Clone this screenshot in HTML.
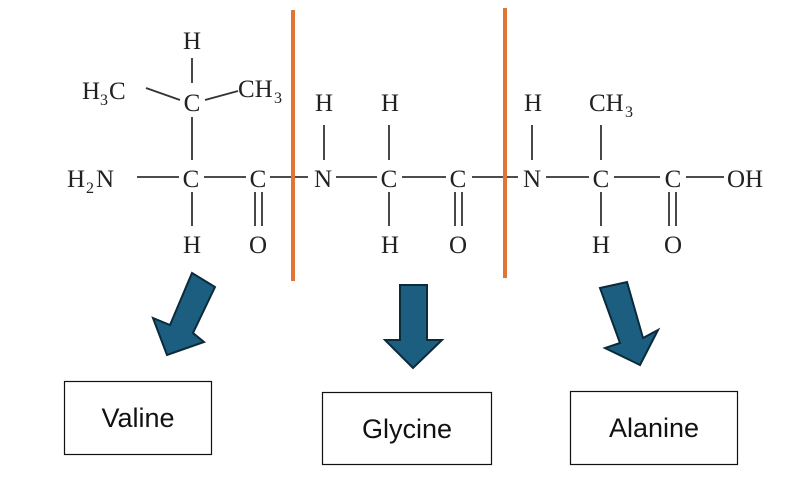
<!DOCTYPE html>
<html><head><meta charset="utf-8"><style>
html,body{margin:0;padding:0;background:#fff;}
svg{display:block}
.t{font-family:"Liberation Serif",serif;font-size:25px;fill:#222}
.s{font-family:"Liberation Serif",serif;font-size:16px;fill:#222}
.b{font-family:"Liberation Sans",sans-serif;font-size:27px;fill:#111}
</style></head><body>
<svg width="807" height="491" viewBox="0 0 807 491" xmlns="http://www.w3.org/2000/svg">
<g stroke="#333" stroke-width="1.8" fill="none">
<line x1="137" y1="177" x2="179" y2="177"/>
<line x1="204" y1="177" x2="246" y2="177"/>
<line x1="270" y1="177" x2="308" y2="177"/>
<line x1="336" y1="177" x2="377" y2="177"/>
<line x1="402" y1="177" x2="446" y2="177"/>
<line x1="472" y1="177" x2="518" y2="177"/>
<line x1="546" y1="177" x2="589" y2="177"/>
<line x1="614" y1="177" x2="660" y2="177"/>
<line x1="686" y1="177" x2="724" y2="177"/>
<line x1="192" y1="58" x2="192" y2="83"/>
<line x1="192" y1="117" x2="192" y2="160"/>
<line x1="192" y1="192" x2="192" y2="226"/>
<line x1="255" y1="192" x2="255" y2="226"/><line x1="262" y1="192" x2="262" y2="226"/>
<line x1="324" y1="125" x2="324" y2="160"/>
<line x1="389" y1="125" x2="389" y2="160"/>
<line x1="389" y1="192" x2="389" y2="226"/>
<line x1="455" y1="192" x2="455" y2="226"/><line x1="462" y1="192" x2="462" y2="226"/>
<line x1="532" y1="125" x2="532" y2="160"/>
<line x1="601" y1="125" x2="601" y2="160"/>
<line x1="601" y1="192" x2="601" y2="226"/>
<line x1="669" y1="192" x2="669" y2="226"/><line x1="676" y1="192" x2="676" y2="226"/>
<line x1="146" y1="88" x2="180" y2="100"/>
<line x1="205" y1="100" x2="238" y2="91"/>
</g>
<g class="t" text-anchor="middle">
<text x="192" y="49">H</text>
<text x="192" y="111">C</text>
<text x="191" y="187">C</text>
<text x="258" y="187">C</text>
<text x="324" y="111">H</text>
<text x="323" y="187">N</text>
<text x="390" y="111">H</text>
<text x="389" y="187">C</text>
<text x="458" y="187">C</text>
<text x="533" y="111">H</text>
<text x="532" y="187">N</text>
<text x="601" y="187">C</text>
<text x="673" y="187">C</text>
<text x="192" y="253">H</text>
<text x="258" y="253">O</text>
<text x="390" y="253">H</text>
<text x="458" y="253">O</text>
<text x="601" y="253">H</text>
<text x="673" y="253">O</text>
</g>
<g class="t">
<text x="82" y="99">H</text><text class="s" x="100" y="105">3</text><text x="109" y="99">C</text>
<text x="238" y="97">CH</text><text class="s" x="274" y="103">3</text>
<text x="67" y="187">H</text><text class="s" x="86" y="193">2</text><text x="96" y="187">N</text>
<text x="589" y="111">CH</text><text class="s" x="625" y="117">3</text>
<text x="727" y="187">OH</text>
</g>
<line x1="293" y1="10" x2="293" y2="281" stroke="#E07536" stroke-width="4"/>
<line x1="505" y1="8" x2="505" y2="278" stroke="#E07536" stroke-width="4"/>
<g fill="#1C5E80" stroke="#0B2A3A" stroke-width="2" stroke-linejoin="miter">
<polygon points="192,273 215,287 193,333 204,342 167,355 153,318 170,325"/>
<polygon points="400,285 427,285 427,340 442,340 413,368 385,340 400,340"/>
<polygon points="600,288 627,282 643,338 658,330 640,365 605,348 620,343"/>
</g>
<g fill="#fff" stroke="#111" stroke-width="1.2">
<rect x="64.5" y="381.5" width="147" height="73"/>
<rect x="322.5" y="392.5" width="169" height="72"/>
<rect x="570.5" y="391.5" width="167" height="73"/>
</g>
<g class="b" text-anchor="middle">
<text x="138" y="427">Valine</text>
<text x="407" y="438">Glycine</text>
<text x="654" y="437">Alanine</text>
</g>
</svg>
</body></html>
